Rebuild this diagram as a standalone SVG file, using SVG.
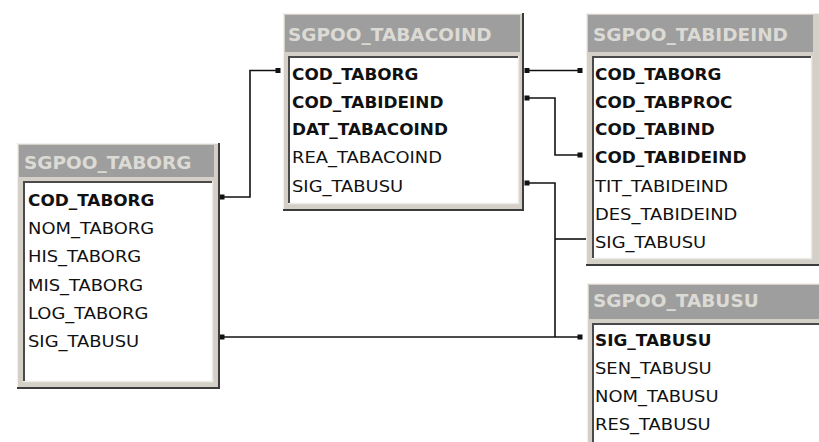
<svg xmlns="http://www.w3.org/2000/svg" width="819" height="442" viewBox="0 0 819 442">
  <style>
    .frame { fill: #d4d0c8; }
    .hi { fill: none; stroke: #f2f1ee; stroke-width: 1; }
    .sh { fill: none; stroke: #3c3c3c; stroke-width: 2; }
    .head { fill: #9e9e9e; }
    .ht { font-family: "DejaVu Sans", Verdana, sans-serif; font-weight: bold; font-size: 18.5px; fill: #dcdad4; }
    .panel { fill: #ffffff; }
    .pin { fill: none; stroke: #4a4a4a; stroke-width: 2; }
    .pout { fill: none; stroke: #ecebe8; stroke-width: 1.5; }
    .col { font-family: "DejaVu Sans", Tahoma, sans-serif; font-size: 16px; fill: #111111; }
    .pk { font-weight: bold; }
    .link { fill: none; stroke: #111111; stroke-width: 1.6; }
    .end { fill: #111111; }
  </style>

  <!-- relationship lines -->
  <g id="connectors">
    <path class="link" d="M222,197 H250 V70.5 H278"/>
    <path class="link" d="M527,70.5 H580"/>
    <path class="link" d="M527,98 H555 V155 H580"/>
    <path class="link" d="M527,183 H555 V337"/>
    <path class="link" d="M555,239 H586"/>
    <path class="link" d="M222,337 H580"/>
    <rect class="end" x="219.5" y="194.5" width="5" height="5"/>
    <rect class="end" x="275.5" y="68" width="5" height="5"/>
    <rect class="end" x="524.5" y="68" width="5" height="5"/>
    <rect class="end" x="577.5" y="68" width="5" height="5"/>
    <rect class="end" x="524.5" y="95.5" width="5" height="5"/>
    <rect class="end" x="577.5" y="152.5" width="5" height="5"/>
    <rect class="end" x="524.5" y="180.5" width="5" height="5"/>
    <rect class="end" x="219.5" y="334.5" width="5" height="5"/>
    <rect class="end" x="577.5" y="334.5" width="5" height="5"/>
  </g>

  <!-- SGPOO_TABORG -->
  <g id="SGPOO_TABORG">
    <rect class="frame" x="17" y="143" width="203" height="246"/>
    <path class="hi" d="M17.5,388 V143.5 H219"/>
    <path class="sh" d="M219,143 V388 H17"/>
    <rect class="head" x="19" y="145" width="195" height="32"/>
    <text class="ht" x="24" y="169">SGPOO_TABORG</text>
    <rect class="panel" x="23" y="181" width="189" height="200"/>
    <path class="pout" d="M212.5,181 V381.5 H23"/>
    <path class="pin" d="M24,381 V182 H212"/>
    <g class="col" transform="translate(28 0) scale(1.12 1)">
      <g transform="scale(0.942 1)"><text class="pk" y="206">COD_TABORG</text></g>
      <text y="234.2">NOM_TABORG</text>
      <text y="262.4">HIS_TABORG</text>
      <text y="290.6">MIS_TABORG</text>
      <text y="318.8">LOG_TABORG</text>
      <text y="347">SIG_TABUSU</text>
    </g>
  </g>

  <!-- SGPOO_TABACOIND -->
  <g id="SGPOO_TABACOIND">
    <rect class="frame" x="283" y="13" width="241" height="198"/>
    <path class="hi" d="M283.5,210 V13.5 H523"/>
    <path class="sh" d="M523,13 V210 H283"/>
    <rect class="head" x="285" y="15" width="235" height="37"/>
    <text class="ht" x="288" y="41">SGPOO_TABACOIND</text>
    <rect class="panel" x="288" y="56" width="230" height="147"/>
    <path class="pout" d="M518.5,56 V203.5 H288"/>
    <path class="pin" d="M289,203 V57 H518"/>
    <g class="col" transform="translate(292 0) scale(1.12 1)">
      <g transform="scale(0.942 1)">
        <text class="pk" y="80">COD_TABORG</text>
        <text class="pk" y="108">COD_TABIDEIND</text>
        <text class="pk" y="135">DAT_TABACOIND</text>
      </g>
      <text y="163">REA_TABACOIND</text>
      <text y="192">SIG_TABUSU</text>
    </g>
  </g>

  <!-- SGPOO_TABIDEIND -->
  <g id="SGPOO_TABIDEIND">
    <rect class="frame" x="586" y="13" width="234" height="253"/>
    <path class="hi" d="M586.5,265 V13.5 H820"/>
    <path class="sh" d="M821,13 V265 H586"/>
    <rect class="head" x="588" y="15" width="225" height="37"/>
    <text class="ht" x="593" y="41">SGPOO_TABIDEIND</text>
    <rect class="panel" x="592" y="56" width="219" height="202"/>
    <path class="pout" d="M811.5,56 V258.5 H592"/>
    <path class="pin" d="M593,258 V57 H811"/>
    <g class="col" transform="translate(595 0) scale(1.12 1)">
      <g transform="scale(0.942 1)">
        <text class="pk" y="80">COD_TABORG</text>
        <text class="pk" y="108">COD_TABPROC</text>
        <text class="pk" y="135">COD_TABIND</text>
        <text class="pk" y="163">COD_TABIDEIND</text>
      </g>
      <text y="192">TIT_TABIDEIND</text>
      <text y="220">DES_TABIDEIND</text>
      <text y="248">SIG_TABUSU</text>
    </g>
  </g>

  <!-- SGPOO_TABUSU -->
  <g id="SGPOO_TABUSU">
    <rect class="frame" x="587" y="283" width="240" height="170"/>
    <path class="hi" d="M587.5,453 V283.5 H827"/>
    <rect class="head" x="589" y="285" width="236" height="34"/>
    <text class="ht" x="593" y="307">SGPOO_TABUSU</text>
    <rect class="panel" x="592" y="323" width="232" height="130"/>
    <path class="pin" d="M593,453 V324 H824"/>
    <g class="col" transform="translate(595 0) scale(1.12 1)">
      <g transform="scale(0.942 1)"><text class="pk" y="346">SIG_TABUSU</text></g>
      <text y="374">SEN_TABUSU</text>
      <text y="402">NOM_TABUSU</text>
      <text y="430">RES_TABUSU</text>
    </g>
  </g>
</svg>
